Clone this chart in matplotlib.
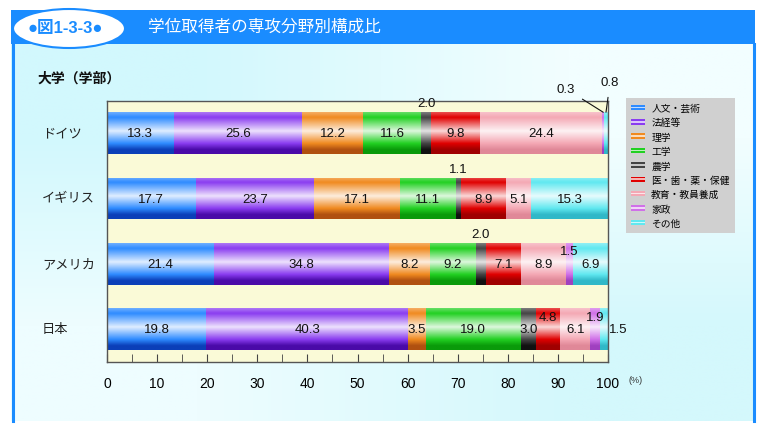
import numpy as np
import matplotlib
matplotlib.use("Agg")
import matplotlib.pyplot as plt
import matplotlib.colors as mcolors
import matplotlib.transforms as mtransforms
from matplotlib.patches import Rectangle, Ellipse, Patch
from matplotlib.legend_handler import HandlerBase

plt.rcParams['font.family'] = ['Liberation Sans', 'Noto Sans CJK JP', 'DejaVu Sans']

# data (%)
countries = ['ドイツ', 'イギリス', 'アメリカ', '日本']
fields = ['人文・芸術', '法経等', '理学', '工学', '農学',
          '医・歯・薬・保健', '教育・教員養成', '家政', 'その他']
germany = [13.3, 25.6, 12.2, 11.6, 2.0, 9.8, 24.4, 0.3, 0.8]
uk = [17.7, 23.7, 17.1, 11.1, 1.1, 8.9, 5.1, 0.0, 15.3]
usa = [21.4, 34.8, 8.2, 9.2, 2.0, 7.1, 8.9, 1.5, 6.9]
japan = [19.8, 40.3, 3.5, 19.0, 3.0, 4.8, 6.1, 1.9, 1.5]
xticks = [0, 10, 20, 30, 40, 50, 60, 70, 80, 90, 100]

# styling
base_colors = ['#2E8BFF', '#8A3CF0', '#F08A20', '#22D022', '#444444',
               '#E00000', '#F4A8B4', '#D070E8', '#60E8F0']
dark_colors = ['#0B3FB8', '#4A0AA8', '#B05010', '#0A9A0A', '#111111',
               '#A00000', '#E08898', '#A040C0', '#30B8C8']
BLUE = '#1A8CFF'

# how to place special value labels: (country index, field index) -> mode
label_mode = {
    (0, 4): 'above', (1, 4): 'above', (2, 4): 'above',
    (0, 7): 'left_call', (0, 8): 'up_call',
    (2, 7): 'upper', (3, 5): 'upper', (3, 7): 'upper',
    (3, 8): 'right',
}


def gradient(color, dark, n=64):
    b = np.array(mcolors.to_rgb(color))
    d = np.array(mcolors.to_rgb(dark))
    w = np.ones(3)
    pos = [0.0, 0.12, 0.45, 0.75, 0.9, 1.0]
    cols = [b * 0.7 + w * 0.3, b, b * 0.15 + w * 0.85, b, d, d]
    t = np.linspace(0, 1, n)
    img = np.stack([np.interp(t, pos, [c[k] for c in cols]) for k in range(3)], axis=-1)
    return img[:, None, :]


class StripeHandler(HandlerBase):
    def create_artists(self, legend, orig, xd, yd, w, h, fontsize, trans):
        b = np.array(mcolors.to_rgb(orig.get_facecolor()))
        light = b * 0.3 + 0.7
        r1 = Rectangle((-xd, -yd), w, h, facecolor=b, edgecolor='none', transform=trans)
        r2 = Rectangle((-xd, -yd + h * 0.35), w, h * 0.3, facecolor=light,
                       edgecolor='none', transform=trans)
        return [r1, r2]


fig = plt.figure(figsize=(7.63, 4.31), dpi=100)

# background: header bar and panel (pixel coords)
bg = fig.add_axes([0, 0, 1, 1], zorder=-1)
bg.set_xlim(0, 763)
bg.set_ylim(431, 0)
bg.axis('off')
panel = np.array([[mcolors.to_rgb('#D2F8FD'), mcolors.to_rgb('#F2FEFF')],
                  [mcolors.to_rgb('#EEFDFF'), mcolors.to_rgb('#D4F8FC')]])
bg.imshow(panel, extent=(11, 755, 422, 45), aspect='auto', interpolation='bilinear')
bg.add_patch(Rectangle((11, 11), 744, 34, facecolor=BLUE, edgecolor='none'))
bg.plot([12.5, 12.5], [45, 422], color=BLUE, lw=2.2)
bg.plot([753.5, 753.5], [45, 422], color=BLUE, lw=2.2)
bg.add_patch(Ellipse((69, 29.5), 112, 39, facecolor='white', edgecolor=BLUE, lw=1.5))
bg.set_xlim(0, 763)
bg.set_ylim(431, 0)
bg.text(65, 29, '●図1-3-3●', color=BLUE, fontsize=12, fontweight='bold',
        ha='center', va='center')
bg.text(148, 27, '学位取得者の専攻分野別構成比', color='white', fontsize=12,
        ha='left', va='center')
bg.text(38, 79, '大学（学部）', color='#111111', fontsize=10, fontweight='bold',
        ha='left', va='center')
bg.text(636, 381, '(%)', color='#333333', fontsize=6.5, ha='center', va='center')

# main chart
ax = fig.add_axes([107 / 763, 1 - 363 / 431, 501 / 763, 261.5 / 431], zorder=1)
ax.set_facecolor('#FAFAD7')
data = [germany, uk, usa, japan]
ypos = np.arange(len(countries))[::-1]
bar_h = 0.64

for ci, vals in enumerate(data):
    lefts = np.concatenate([[0], np.cumsum(vals)[:-1]])
    bars = ax.barh([ypos[ci]] * len(vals), vals, left=lefts, height=bar_h,
                   color='none', edgecolor='none', zorder=2)
    for fi, rect in enumerate(bars):
        x0, y0, w, h = rect.get_x(), rect.get_y(), rect.get_width(), rect.get_height()
        if w <= 0:
            continue
        im = ax.imshow(gradient(base_colors[fi], dark_colors[fi]),
                       extent=(x0, x0 + w, y0, y0 + h), origin='upper',
                       aspect='auto', interpolation='bilinear', zorder=2)
        im.set_clip_path(rect)

        xc = x0 + w / 2
        yc = y0 + h / 2
        txt = f'{vals[fi]:.1f}'
        mode = label_mode.get((ci, fi), 'center')
        kw = dict(fontsize=9.5, color='#111111', zorder=5)
        if mode == 'center':
            ax.text(xc, yc, txt, ha='center', va='center', **kw)
        elif mode == 'upper':
            ax.annotate(txt, (xc, yc), xytext=(0, 9), textcoords='offset points',
                        ha='center', va='center', **kw)
        elif mode == 'above':
            ax.annotate(txt, (xc, y0 + h), xytext=(0, 2), textcoords='offset points',
                        ha='center', va='bottom', annotation_clip=False, **kw)
        elif mode == 'right':
            ax.annotate(txt, (x0 + w, yc), xytext=(1, 0), textcoords='offset points',
                        ha='left', va='center', annotation_clip=False, **kw)
        elif mode == 'left_call':
            ax.annotate(txt, (xc, y0 + h), xytext=(-27, 17), textcoords='offset points',
                        ha='center', va='center', annotation_clip=False,
                        arrowprops=dict(arrowstyle='-', color='#111111', lw=0.8,
                                        shrinkA=4, shrinkB=0), **kw)
        elif mode == 'up_call':
            ax.annotate(txt, (xc, y0 + h), xytext=(3, 22), textcoords='offset points',
                        ha='center', va='center', annotation_clip=False,
                        arrowprops=dict(arrowstyle='-', color='#111111', lw=0.8,
                                        shrinkA=5, shrinkB=0), **kw)

ax.set_xlim(0, 100)
ax.set_ylim(-0.5, len(countries) - 0.5)
ax.set_aspect('auto')
ax.set_xticks(xticks)
ax.set_xticks(np.arange(5, 100, 10), minor=True)
ax.tick_params(axis='x', which='both', direction='in', length=6, color='#444444',
               labelsize=10, pad=10, top=False)
ax.set_yticks([])
for s in ax.spines.values():
    s.set_color('#555555')
    s.set_linewidth(1)

trans = mtransforms.blended_transform_factory(fig.transFigure, ax.transData)
for ci, name in enumerate(countries):
    ax.text(42 / 763, ypos[ci], name, transform=trans, ha='left', va='center',
            fontsize=9.5, color='#222222')

handles = [Patch(facecolor=c) for c in base_colors]
fig.legend(handles, fields, loc='upper left', bbox_to_anchor=(626 / 763, 1 - 99 / 431),
           handler_map={Patch: StripeHandler()}, fontsize=7, frameon=True,
           fancybox=False, facecolor='#D0D0D0', edgecolor='none', framealpha=1,
           handlelength=1.5, handleheight=0.5, labelspacing=0.45,
           handletextpad=0.6, borderpad=0.5, borderaxespad=0)

fig.savefig('out.png', dpi=100)
